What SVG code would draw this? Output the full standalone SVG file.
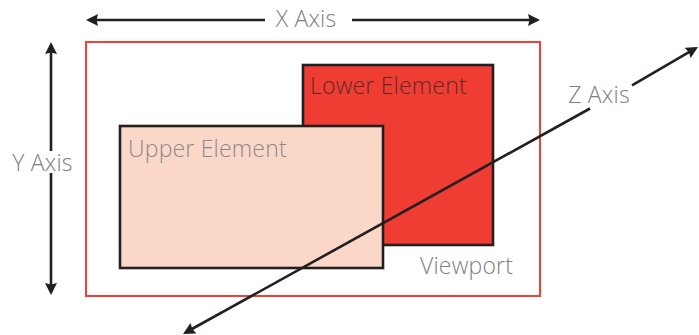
<svg xmlns="http://www.w3.org/2000/svg" width="699" height="335" viewBox="0 0 699 335">
  <defs>
    <marker id="arrow" viewBox="0 0 12 12" refX="9" refY="6" markerWidth="12" markerHeight="12" markerUnits="userSpaceOnUse" orient="auto-start-reverse">
      <path d="M0,0 L12,6 L0,12 L1.5,6 z" fill="#231f20"/>
    </marker>
  </defs>
  <style>
    text { font-family: "Open Sans", "Noto Sans", "DejaVu Sans", sans-serif; font-size: 23px; font-weight: 300; letter-spacing: 0.2px; }
    .label { fill: #808080; }
    .axis { stroke: #231f20; stroke-width: 2.6; fill: none; }
    .box { stroke: #231f20; stroke-width: 2.6; }
  </style>
  <rect width="699" height="335" fill="#ffffff"/>

  <g id="viewport">
    <rect x="86" y="42" width="454" height="254" fill="none" stroke="#ef4136" stroke-width="2"/>
    <text class="label" x="420" y="274">Viewport</text>
  </g>

  <g id="lower-element">
    <rect class="box" x="303" y="65" width="190" height="180" fill="#ef3d33"/>
    <text x="310" y="94" fill="#5e2a26">Lower Element</text>
  </g>

  <g id="upper-element">
    <rect class="box" x="120" y="126" width="263" height="142" fill="#fbd7c8"/>
    <text x="128" y="157" fill="#8a8a8a">Upper Element</text>
  </g>

  <g id="connectors">
    <line class="axis" x1="89" y1="20" x2="265" y2="20" marker-start="url(#arrow)"/>
    <line class="axis" x1="352" y1="20" x2="537" y2="20" marker-end="url(#arrow)"/>
    <line class="axis" x1="51" y1="45" x2="51" y2="151" marker-start="url(#arrow)"/>
    <line class="axis" x1="51" y1="173" x2="51" y2="292" marker-end="url(#arrow)"/>
    <line class="axis" x1="185.6" y1="332.5" x2="590" y2="108.5" marker-start="url(#arrow)"/>
    <line class="axis" x1="632" y1="85.3" x2="695.4" y2="48.4" marker-end="url(#arrow)"/>
  </g>

  <g id="axis-labels">
    <text class="label" x="306" y="27" text-anchor="middle">X Axis</text>
    <text class="label" x="42.5" y="171" text-anchor="middle">Y Axis</text>
    <text class="label" x="599" y="103" text-anchor="middle">Z Axis</text>
  </g>
</svg>
